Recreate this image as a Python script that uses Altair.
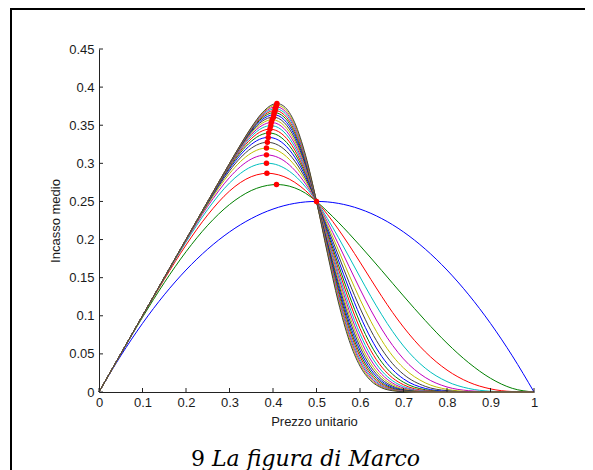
import altair as alt
import pandas as pd

# Prezzo unitario (x grid shared by the curves)
P = [0, 0.05, 0.1, 0.15, 0.2, 0.25, 0.3, 0.325, 0.35, 0.375, 0.4, 0.425, 0.45, 0.475, 0.5,
     0.525, 0.55, 0.575, 0.6, 0.625, 0.65, 0.675, 0.7, 0.75, 0.8, 0.85, 0.9, 0.95, 1]

# Incasso medio, one list per curve (n = 1 .. 21)
c01 = [0, 0.0475, 0.09, 0.1275, 0.16, 0.1875, 0.21, 0.2194, 0.2275, 0.2344, 0.24, 0.2444, 0.2475, 0.2494, 0.25, 0.2494, 0.2475, 0.2444, 0.24, 0.2344, 0.2275, 0.2194, 0.21, 0.1875, 0.16, 0.1275, 0.09, 0.0475, 0]
c02 = [0, 0.0498, 0.098, 0.1433, 0.184, 0.2188, 0.246, 0.2563, 0.2643, 0.2695, 0.272, 0.2715, 0.2678, 0.2607, 0.25, 0.2369, 0.2228, 0.2077, 0.192, 0.1758, 0.1593, 0.1426, 0.126, 0.0938, 0.064, 0.0383, 0.018, 0.0048, 0]
c03 = [0, 0.05, 0.0996, 0.1477, 0.1928, 0.2324, 0.2636, 0.2748, 0.2825, 0.2864, 0.2864, 0.2826, 0.2751, 0.2641, 0.25, 0.2330, 0.2137, 0.1926, 0.1704, 0.1477, 0.1254, 0.1043, 0.0851, 0.0527, 0.0288, 0.0129, 0.0041, 0.0006, 0]
c04 = [0, 0.05, 0.0999, 0.1492, 0.1966, 0.2396, 0.2742, 0.2867, 0.2955, 0.2998, 0.2994, 0.2941, 0.2839, 0.2690, 0.25, 0.2277, 0.2030, 0.1771, 0.1509, 0.1253, 0.1013, 0.0794, 0.0603, 0.0313, 0.0137, 0.0046, 0.0010, 0.0001, 0]
c05 = [0, 0.05, 0.1, 0.1497, 0.1983, 0.2437, 0.2814, 0.2956, 0.3056, 0.3106, 0.31, 0.3035, 0.2909, 0.2729, 0.25, 0.2234, 0.1944, 0.1645, 0.135, 0.1073, 0.0825, 0.0611, 0.0434, 0.0191, 0.0066, 0.0017, 0.0003, 0, 0]
c06 = [0, 0.05, 0.1, 0.1499, 0.1991, 0.246, 0.2865, 0.3022, 0.3135, 0.3194, 0.319, 0.3116, 0.2973, 0.2765, 0.25, 0.2195, 0.1867, 0.1534, 0.1216, 0.0927, 0.0677, 0.0473, 0.0316, 0.012, 0.0035, 0.0007, 0.0001, 0, 0]
c07 = [0, 0.05, 0.1, 0.15, 0.1996, 0.2475, 0.2901, 0.3072, 0.3198, 0.3267, 0.3266, 0.3188, 0.303, 0.2796, 0.25, 0.2159, 0.1797, 0.1437, 0.1101, 0.0806, 0.0562, 0.0371, 0.0232, 0.0074, 0.0018, 0.0003, 0, 0, 0]
c08 = [0, 0.05, 0.1, 0.15, 0.1998, 0.2484, 0.2927, 0.3109, 0.3248, 0.3328, 0.3333, 0.3253, 0.3082, 0.2826, 0.25, 0.2126, 0.1733, 0.135, 0.1001, 0.0704, 0.0467, 0.0293, 0.0172, 0.0047, 0.0009, 0.0001, 0, 0, 0]
c09 = [0, 0.05, 0.1, 0.15, 0.1999, 0.249, 0.2945, 0.3139, 0.3289, 0.338, 0.3392, 0.331, 0.313, 0.2854, 0.25, 0.2095, 0.1674, 0.1271, 0.0912, 0.0616, 0.0391, 0.0232, 0.0128, 0.003, 0.0004, 0, 0, 0, 0]
c10 = [0, 0.05, 0.1, 0.15, 0.1999, 0.2494, 0.2959, 0.3162, 0.3323, 0.3425, 0.3444, 0.3364, 0.3175, 0.288, 0.25, 0.2066, 0.162, 0.1199, 0.0833, 0.0542, 0.0328, 0.0184, 0.0095, 0.0019, 0.0002, 0, 0, 0, 0]
c11 = [0, 0.05, 0.1, 0.15, 0.2, 0.2496, 0.297, 0.3179, 0.3351, 0.3464, 0.3492, 0.3413, 0.3216, 0.2905, 0.25, 0.2039, 0.1569, 0.1132, 0.0763, 0.0478, 0.0276, 0.0147, 0.0071, 0.0012, 0.0001, 0, 0, 0, 0]
c12 = [0, 0.05, 0.1, 0.15, 0.2, 0.2498, 0.2977, 0.3193, 0.3375, 0.3497, 0.3534, 0.3458, 0.3256, 0.2928, 0.25, 0.2013, 0.1521, 0.1071, 0.07, 0.0421, 0.0233, 0.0117, 0.0053, 0.0008, 0, 0, 0, 0, 0]
c13 = [0, 0.05, 0.1, 0.15, 0.2, 0.2498, 0.2983, 0.3205, 0.3394, 0.3526, 0.3572, 0.3499, 0.3293, 0.2951, 0.25, 0.1989, 0.1476, 0.1015, 0.0643, 0.0373, 0.0197, 0.0095, 0.004, 0.0005, 0, 0, 0, 0, 0]
c14 = [0, 0.05, 0.1, 0.15, 0.2, 0.2499, 0.2987, 0.3214, 0.341, 0.3552, 0.3606, 0.3539, 0.3328, 0.2972, 0.25, 0.1965, 0.1432, 0.0963, 0.0592, 0.0331, 0.0167, 0.0076, 0.003, 0.0003, 0, 0, 0, 0, 0]
c15 = [0, 0.05, 0.1, 0.15, 0.2, 0.2499, 0.299, 0.3221, 0.3424, 0.3574, 0.3637, 0.3575, 0.3362, 0.2993, 0.25, 0.1942, 0.1392, 0.0913, 0.0545, 0.0294, 0.0142, 0.0061, 0.0023, 0.0002, 0, 0, 0, 0, 0]
c16 = [0, 0.05, 0.1, 0.15, 0.2, 0.25, 0.2993, 0.3227, 0.3435, 0.3594, 0.3665, 0.3609, 0.3393, 0.3013, 0.25, 0.192, 0.1353, 0.0867, 0.0502, 0.0261, 0.0121, 0.0049, 0.0018, 0.0002, 0, 0, 0, 0, 0]
c17 = [0, 0.05, 0.1, 0.15, 0.2, 0.25, 0.2995, 0.3231, 0.3445, 0.3611, 0.3691, 0.364, 0.3423, 0.3032, 0.25, 0.1899, 0.1316, 0.0825, 0.0464, 0.0231, 0.0103, 0.0039, 0.0013, 0.0001, 0, 0, 0, 0, 0]
c18 = [0, 0.05, 0.1, 0.15, 0.2, 0.25, 0.2996, 0.3235, 0.3453, 0.3626, 0.3714, 0.367, 0.3452, 0.305, 0.25, 0.1878, 0.128, 0.0784, 0.0428, 0.0207, 0.0087, 0.0032, 0.001, 0.0001, 0, 0, 0, 0, 0]
c19 = [0, 0.05, 0.1, 0.15, 0.2, 0.25, 0.2997, 0.3237, 0.346, 0.364, 0.3736, 0.3698, 0.3481, 0.3069, 0.25, 0.1859, 0.1246, 0.0747, 0.0396, 0.0184, 0.0074, 0.0026, 0.0008, 0, 0, 0, 0, 0, 0]
c20 = [0, 0.05, 0.1, 0.15, 0.2, 0.25, 0.2998, 0.324, 0.3466, 0.3652, 0.3756, 0.3724, 0.3506, 0.3086, 0.25, 0.1839, 0.1215, 0.0712, 0.0366, 0.0164, 0.0063, 0.0021, 0.0006, 0, 0, 0, 0, 0, 0]
c21 = [0, 0.05, 0.1, 0.15, 0.2, 0.25, 0.2998, 0.3242, 0.3471, 0.3662, 0.3774, 0.3749, 0.3532, 0.3103, 0.25, 0.1821, 0.1183, 0.0678, 0.0339, 0.0147, 0.0054, 0.0016, 0.0004, 0, 0, 0, 0, 0, 0]

CURVES = [c01, c02, c03, c04, c05, c06, c07, c08, c09, c10, c11, c12, c13, c14,
          c15, c16, c17, c18, c19, c20, c21]

# red dots: maximum of each curve
PEAK_X = [0.5, 0.408, 0.386, 0.385, 0.385, 0.385, 0.387, 0.389, 0.390, 0.393, 0.395,
          0.396, 0.398, 0.401, 0.402, 0.403, 0.405, 0.405, 0.407, 0.408, 0.409]
PEAK_Y = [0.25, 0.2722, 0.2870, 0.3002, 0.3111, 0.3200, 0.3276, 0.3340, 0.3398, 0.3449, 0.3494,
          0.3535, 0.3573, 0.3606, 0.3638, 0.3666, 0.3693, 0.3718, 0.3742, 0.3764, 0.3784]

XTICKS = [0, 0.1, 0.2, 0.3, 0.4, 0.5, 0.6, 0.7, 0.8, 0.9, 1]
YTICKS = [0, 0.05, 0.1, 0.15, 0.2, 0.25, 0.3, 0.35, 0.4, 0.45]

MATLAB_COLORS = ["#0000ff", "#008000", "#ff0000", "#00bfbf", "#bf00bf", "#bfbf00", "#404040"]

X_TITLE = "Prezzo unitario"
Y_TITLE = "Incasso medio"
CAPTION_NUM = "9"
CAPTION_TEXT = "La figura di Marco"

W, H = 435, 343

rows = []
for i, curve in enumerate(CURVES):
    n = i + 1
    pts = list(zip(P, curve))
    if PEAK_X[i] not in P:
        pts.append((PEAK_X[i], PEAK_Y[i]))
    pts.sort()
    for p, r in pts:
        rows.append({"p": p, "r": r, "n": n})
lines_df = pd.DataFrame(rows)
peaks_df = pd.DataFrame({"p": PEAK_X, "r": PEAK_Y})

ndomain = list(range(1, len(CURVES) + 1))
nrange = [MATLAB_COLORS[(k - 1) % 7] for k in ndomain]

FONT = "Liberation Sans"
TXT = "#1a1a1a"

xscale = alt.Scale(domain=[0, 1], nice=False, zero=False)
yscale = alt.Scale(domain=[0, 0.45], nice=False, zero=False)

xaxis = alt.Axis(values=XTICKS, format="~g", tickSize=0, labelPadding=4, labelFlush=False,
                 labelOverlap=False, domainColor="#222222", domainWidth=1, grid=False,
                 labelFont=FONT, labelFontSize=13, labelColor=TXT,
                 title=X_TITLE, titleFont=FONT, titleFontSize=13, titleFontWeight="normal",
                 titleColor=TXT, titleX=215, titleY=29, titleBaseline="middle", titleAlign="center")
yaxis = alt.Axis(values=YTICKS, format="~g", tickSize=0, labelPadding=5, labelOverlap=False,
                 domainColor="#222222", domainWidth=1, grid=False,
                 labelFont=FONT, labelFontSize=13, labelColor=TXT,
                 title=Y_TITLE, titleFont=FONT, titleFontSize=13, titleFontWeight="normal",
                 titleColor=TXT, titleX=-44, titleY=H / 2, titleAngle=270,
                 titleBaseline="middle", titleAlign="center")

# page frame: two thin filled bars (top and left edges), kept inside the canvas
frame_df = pd.DataFrame({"a": [0]})
frame_top = alt.Chart(frame_df).mark_rect(color="black", strokeWidth=0).encode(
    x=alt.value(-89), x2=alt.value(486), y=alt.value(-41), y2=alt.value(-39))
frame_left = alt.Chart(frame_df).mark_rect(color="black", strokeWidth=0).encode(
    x=alt.value(-89), x2=alt.value(-87), y=alt.value(-41), y2=alt.value(421))

lines = alt.Chart(lines_df).mark_line(strokeWidth=1, interpolate="monotone").encode(
    x=alt.X("p:Q", scale=xscale, axis=xaxis),
    y=alt.Y("r:Q", scale=yscale, axis=yaxis),
    color=alt.Color("n:N", scale=alt.Scale(domain=ndomain, range=nrange), legend=None),
    order=alt.Order("p:Q"),
)

xt = alt.Chart(pd.DataFrame({"t": XTICKS})).mark_rule(color="#222222", strokeWidth=1).encode(
    x=alt.X("t:Q", scale=xscale, axis=xaxis), y=alt.value(H), y2=alt.value(H - 4))
yt = alt.Chart(pd.DataFrame({"t": YTICKS})).mark_rule(color="#222222", strokeWidth=1).encode(
    y=alt.Y("t:Q", scale=yscale, axis=yaxis), x=alt.value(0), x2=alt.value(4))

dots = alt.Chart(peaks_df).mark_circle(size=30, color="#ff0000", opacity=1).encode(
    x=alt.X("p:Q", scale=xscale, axis=xaxis), y=alt.Y("r:Q", scale=yscale, axis=yaxis))

cap1 = alt.Chart(pd.DataFrame({"t": [CAPTION_NUM]})).mark_text(
    align="left", baseline="alphabetic", font="DejaVu Serif", fontSize=22, color="black"
).encode(x=alt.value(92), y=alt.value(417), text="t:N")
cap2 = alt.Chart(pd.DataFrame({"t": [CAPTION_TEXT]})).mark_text(
    align="left", baseline="alphabetic", font="DejaVu Serif", fontSize=22, fontStyle="italic",
    color="black"
).encode(x=alt.value(113), y=alt.value(417), text="t:N")

chart = alt.layer(lines, xt, yt, dots, frame_top, frame_left, cap1, cap2).properties(
    width=W, height=H,
    autosize=alt.AutoSizeParams(type="none"),
    padding={"left": 91, "top": 41, "right": 51, "bottom": 78},
    background="white",
).configure_view(stroke=None)

chart.save("out.html", embed_options={"renderer": "svg", "actions": False})
